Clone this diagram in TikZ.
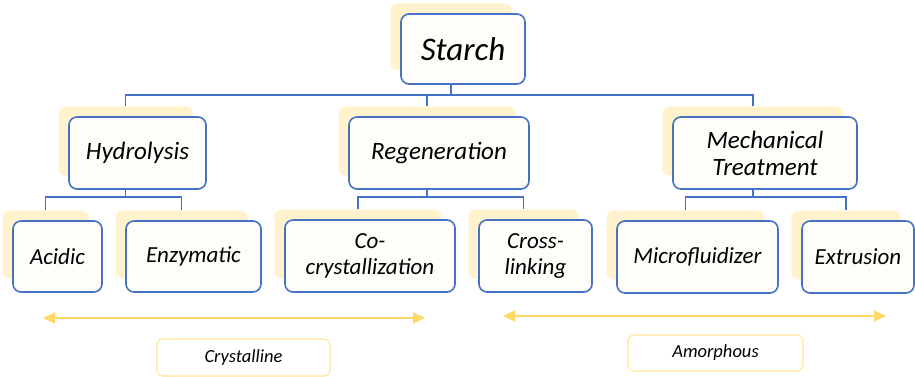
\documentclass[tikz,border=0pt]{standalone}
\usepackage{fontspec}
\setmainfont{Carlito}
\usetikzlibrary{arrows.meta}
\definecolor{boxblue}{HTML}{4472C4}
\definecolor{shadowy}{HTML}{FFF2CC}
\definecolor{arrowy}{HTML}{FFD966}
\definecolor{labely}{HTML}{FFE699}
\definecolor{boxfill}{HTML}{FFFDFA}
\newcommand\tnode[7]{%
  \node[shadowbox, minimum width={(#4-3)*1pt}, minimum height={(#5-3)*1pt}] (#1s) at ({#2-12},{#3-12}) {};
  \node[mainbox, minimum width={#4*1pt}, minimum height={#5*1pt}, font=#6] (#1) at (#2,#3) {#7};
}
\newcommand\fbig{\fontsize{33}{36}\selectfont\itshape}
\newcommand\fmidsz{\fontsize{25}{27}\selectfont\itshape}
\newcommand\fsmallsz{\fontsize{23}{26}\selectfont\itshape}
\begin{document}
\begin{tikzpicture}[x=1pt,y=-1pt,
  shadowbox/.style={fill=shadowy, draw=none, rounded corners=7pt, inner sep=0pt},
  mainbox/.style={draw=boxblue, line width=1.6pt, fill=boxfill, rounded corners=8pt, inner sep=0pt, align=center, text=black},
  conn/.style={draw=boxblue, line width=1.8pt},
  yarrow/.style={draw=arrowy, line width=1.8pt, {Triangle[length=12pt,width=11pt]}-{Triangle[length=12pt,width=11pt]}},
  labelbox/.style={draw=labely, line width=1.2pt, fill=white, rounded corners=6pt, inner sep=0pt, font=\fontsize{18.5}{21}\selectfont\itshape}
]
\useasboundingbox (0,0) rectangle (915,377);
\fill[white] (0,0) rectangle (915,377);
\coordinate (bus0) at (0,95);
\coordinate (bus1) at (0,197);
\tnode{starch}{463}{49}{124}{70}{\fbig}{Starch}
\tnode{hyd}{137.5}{153}{137}{72}{\fmidsz}{Hydrolysis}
\tnode{regen}{439}{153}{180}{72}{\fmidsz}{Regeneration}
\tnode{mech}{765}{153}{184}{72}{\fmidsz}{Mechanical\\Treatment}
\tnode{acidic}{57.5}{256.5}{89}{71}{\fsmallsz}{Acidic}
\tnode{enz}{193.5}{256.5}{135}{71}{\fsmallsz}{Enzymatic}
\tnode{cocr}{370}{256}{170}{72}{\fsmallsz}{Co-\\crystallization}
\tnode{cross}{535.5}{256}{113}{72}{\fsmallsz}{Cross-\\linking}
\tnode{micro}{697.5}{257}{161}{72}{\fsmallsz}{Microfluidizer}
\tnode{extr}{858}{257}{112}{72}{\fsmallsz}{Extrusion}
% connectors
\draw[conn] (starch.south -| starchs.center) -- (bus0 -| starchs.center) -| (hyds.north);
\draw[conn] (bus0 -| starchs.center) -| (regens.north);
\draw[conn] (bus0 -| starchs.center) -| (mechs.north);
\draw[conn] (hyd.south -| hyds.center) -- (bus1 -| hyds.center) -| (acidics.north);
\draw[conn] (bus1 -| hyds.center) -| (enzs.north);
\draw[conn] (regen.south -| regens.center) -- (bus1 -| regens.center) -| (cocrs.north);
\draw[conn] (bus1 -| regens.center) -| (crosss.north);
\draw[conn] (mech.south -| mechs.center) -- (bus1 -| mechs.center) -| (micros.north);
\draw[conn] (bus1 -| mechs.center) -| (extrs.north);
% arrows
\coordinate (a1l) at (43,318);
\coordinate (a1r) at (425,318);
\coordinate (a2l) at (503,316);
\coordinate (a2r) at (886,316);
\draw[yarrow] (a1l) -- (a1r);
\draw[yarrow] (a2l) -- (a2r);
\node[labelbox, minimum width=173pt, minimum height=37pt] (cryst) at (243.5,357.5) {Crystalline};
\node[labelbox, minimum width=175pt, minimum height=36pt] (amor) at (715.5,353) {Amorphous};
\end{tikzpicture}
\end{document}
